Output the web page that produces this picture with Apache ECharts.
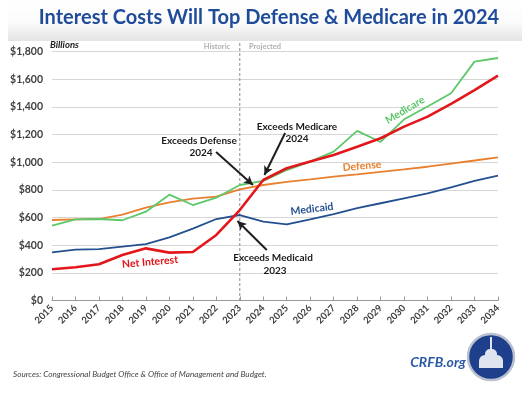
<!DOCTYPE html>
<html>
<head>
<meta charset="utf-8">
<script src="https://cdn.jsdelivr.net/npm/echarts@6/dist/echarts.min.js"></script>
<style>
  html, body { margin: 0; padding: 0; background: #fff; }
  #chart { width: 530px; height: 399px; }
</style>
</head>
<body>
<div id="chart"></div>
<script>
// Fiscal years on the x axis; CBO projections start after 2023.
const YEARS = [2015, 2016, 2017, 2018, 2019, 2020, 2021, 2022, 2023, 2024,
  2025, 2026, 2027, 2028, 2029, 2030, 2031, 2032, 2033, 2034];

// Outlays, billions of dollars.
const NET_INTEREST = [226, 240, 262, 329, 377, 346, 351, 474, 654, 871,
  956, 1004, 1052, 1112, 1173, 1257, 1329, 1421, 1521, 1625];
const MEDICARE = [541, 587, 589, 580, 642, 765, 690, 743, 835, 864,
  943, 1004, 1076, 1226, 1146, 1310, 1402, 1498, 1727, 1753];
const DEFENSE = [582, 587, 589, 620, 671, 710, 736, 751, 804, 835,
  857, 875, 895, 912, 930, 948, 967, 990, 1012, 1035];
const MEDICAID = [348, 368, 372, 389, 408, 457, 519, 589, 618, 570,
  551, 587, 625, 667, 703, 739, 775, 818, 864, 902];

const SPLIT_YEAR = 2023;

// Callout arrows, [fromYear, fromValue] -> [toYear, toValue] in data space.
const ARROWS = [
  [[2021.99, 1074], [2023.56, 835]],   // Exceeds Defense
  [[2024.93, 1211], [2024.05, 907]],   // Exceeds Medicare
  [[2024.15, 365], [2022.9, 575]],     // Exceeds Medicaid
];

const pairs = (vals) => YEARS.map((y, i) => [y, vals[i]]);
const FONT = "Lato, 'Open Sans', sans-serif";

function line(name, vals, color, width, extra = {}) {
  return {
    name, type: "line", data: pairs(vals), showSymbol: false, silent: true,
    lineStyle: { color, width }, itemStyle: { color }, z: 3, ...extra,
  };
}

function txt(x, y, text, style = {}, rotation = 0) {
  return {
    type: "text", x, y, rotation: rotation * Math.PI / 180, z: 20,
    style: { text, fontFamily: FONT, fontSize: 10, fontWeight: "bold", fill: "#1a1a1a",
      align: "center", verticalAlign: "middle", ...style },
  };
}

const option = {
  animation: false,
  grid: { left: 52, right: 32, top: 51.5, bottom: 98.5 },
  xAxis: {
    type: "value", min: 2015, max: 2034, interval: 1,
    axisLine: { lineStyle: { color: "#9a9a9a" } },
    axisTick: { inside: true, length: 4, lineStyle: { color: "#9a9a9a" } },
    splitLine: { show: false },
    axisLabel: { rotate: 45, fontFamily: FONT, fontSize: 9.5, fontWeight: "bold",
      color: "#404040", margin: 6, formatter: (v) => String(v) },
  },
  yAxis: {
    type: "value", min: 0, max: 1800, interval: 200,
    axisLine: { show: false }, axisTick: { show: false },
    splitLine: { lineStyle: { color: "#d6d6d6" } },
    axisLabel: { fontFamily: FONT, fontSize: 10.5, fontWeight: "bold", color: "#404040",
      margin: 9, formatter: (v) => "$" + v.toLocaleString("en-US") },
  },
  series: [
    line("Defense", DEFENSE, "#e8802f", 1.8),
    line("Medicaid", MEDICAID, "#24508f", 1.8),
    line("Medicare", MEDICARE, "#5cc86a", 1.8),
    line("Net Interest", NET_INTEREST, "#e3161c", 2.6, {
      z: 4,
      markLine: {
        silent: true, symbol: ["none", "arrow"], symbolSize: [7, 9],
        label: { show: false },
        lineStyle: { color: "#1f1f1f", width: 2, type: "solid" },
        data: ARROWS.map(([a, b]) => [{ coord: a }, { coord: b }]),
      },
    }),
  ],
  graphic: [
    {
      type: "rect", shape: { x: 8, y: 0, width: 514, height: 41 }, z: 0, silent: true,
      style: { fill: { type: "linear", x: 0, y: 0, x2: 0, y2: 1, colorStops: [
        { offset: 0, color: "#ffffff" }, { offset: 0.55, color: "#fbfbfb" },
        { offset: 1, color: "#e4e4e4" }] } },
    },
    txt(269, 18, "Interest Costs Will Top Defense & Medicare in 2024",
      { fontSize: 20, fill: "#1f4b9b" }),
    txt(50, 45, "Billions", { align: "left", fontStyle: "italic", fontSize: 9.5, fill: "#222" }),
    txt(217, 47, "Historic", { fontSize: 7.5, fill: "#b0b0b0" }),
    txt(265, 47, "Projected", { fontSize: 7.5, fill: "#b0b0b0" }),
    txt(405, 110, "Medicare", { fill: "#5cc86a", fontSize: 10.5 }, 31),
    txt(362, 166, "Defense", { fill: "#e8802f", fontSize: 10.5 }, 5),
    txt(312, 209, "Medicaid", { fill: "#24508f", fontSize: 10.5 }, 7),
    txt(150, 262, "Net Interest", { fill: "#e3161c", fontSize: 10.5 }, 5),
    txt(199, 141, "Exceeds Defense"),
    txt(201, 153, "2024"),
    txt(297, 127, "Exceeds Medicare"),
    txt(297, 139, "2024"),
    txt(273, 258, "Exceeds Medicaid"),
    txt(275, 271, "2023"),
    txt(13, 374, "Sources: Congressional Budget Office & Office of Management and Budget.",
      { align: "left", fontStyle: "italic", fontWeight: "normal", fontSize: 8.2, fill: "#444" }),
    txt(438, 362, "CRFB.org", { fontSize: 14, fontStyle: "italic", fill: "#2b5aa6" }),
    {
      type: "circle", shape: { cx: 491, cy: 357, r: 23 }, z: 20, silent: true,
      style: { fill: "#1e3f8c", stroke: "#b9c0cf", lineWidth: 2.5 },
    },
    {
      type: "rect", shape: { x: 479, y: 355, width: 24, height: 13, r: [6, 6, 0, 0] }, z: 21,
      silent: true, style: { fill: "#dfe4ee" },
    },
    {
      type: "rect", shape: { x: 485, y: 349, width: 12, height: 7, r: [5, 5, 0, 0] }, z: 21,
      silent: true, style: { fill: "#dfe4ee" },
    },
    {
      type: "rect", shape: { x: 490, y: 337, width: 2, height: 12 }, z: 21,
      silent: true, style: { fill: "#dfe4ee" },
    },
  ],
};

const chart = echarts.init(document.getElementById("chart"));
chart.setOption(option);

// Historic/Projected divider: runs from just above the plot down to the axis.
const splitX = chart.convertToPixel({ xAxisIndex: 0 }, SPLIT_YEAR);
const axisY = chart.convertToPixel({ yAxisIndex: 0 }, 0);
chart.setOption({
  graphic: option.graphic.concat([{
    type: "line", silent: true, z: 2,
    shape: { x1: splitX, y1: 43, x2: splitX, y2: axisY },
    style: { stroke: "#8a8a8a", lineWidth: 1, lineDash: [3, 2] },
  }]),
});
window.addEventListener("resize", () => chart.resize());
</script>
</body>
</html>
